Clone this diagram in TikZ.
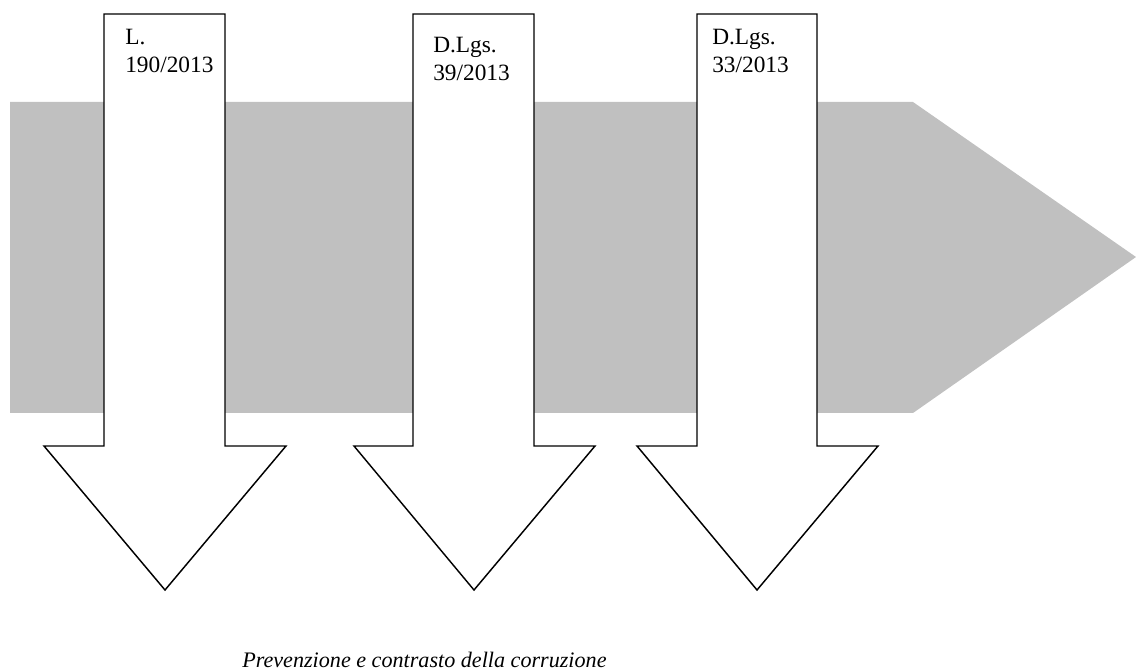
\documentclass[tikz,border=0pt]{standalone}
\usepackage{fontspec}
\setmainfont{Liberation Serif}
\definecolor{bandgray}{HTML}{C0C0C0}
\tikzset{
  band/.style={fill=bandgray, draw=none},
  downarrow/.style={fill=white, draw=black, line width=1.1pt, line join=miter},
  lawlabel/.style={anchor=base west, inner sep=0pt, text width=120pt, align=left,
    font=\fontsize{17.5pt}{21pt}\selectfont},
  caption/.style={anchor=base west, inner sep=0pt, font=\itshape\fontsize{16.6pt}{19pt}\selectfont}
}
\begin{document}
\begin{tikzpicture}[x=0.75pt, y=-0.75pt]
\useasboundingbox (0,0) rectangle (1136,670);
% big grey band arrow
\fill[band] (10,102) -- (913,102) -- (1136,257) -- (913,413) -- (10,413) -- cycle;
% three down arrows
\foreach \l/\r/\hl/\hr/\c in {104/225/44/286/165, 413/534/354/595/474, 697/817/637/878/757}{
  \draw[downarrow] (\l,14) -- (\r,14) -- (\r,446) -- (\hr,446) -- (\c,590) -- (\hl,446) -- (\l,446) -- cycle;
}
\node[lawlabel] (l1) at (125,45) {L.\\190/2013};
\node[lawlabel] (l2) at (433,53) {D.Lgs.\\39/2013};
\node[lawlabel] (l3) at (712,45) {D.Lgs.\\33/2013};
\node[caption] (cap) at (242,667) {Prevenzione e contrasto della corruzione};
\end{tikzpicture}
\end{document}
